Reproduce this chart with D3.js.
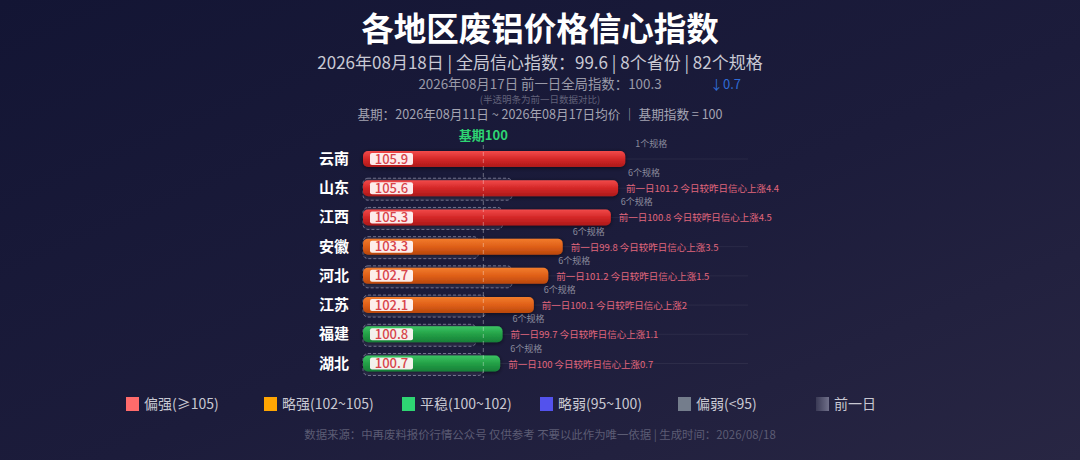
<!DOCTYPE html>
<html>
<head>
<meta charset="utf-8">
<script src="https://cdn.jsdelivr.net/npm/d3@7"></script>
<style>
  html, body { margin: 0; padding: 0; background: #1a1a38; }
  svg { display: block; font-family: "Noto Sans CJK SC", "Noto Sans", sans-serif; }
</style>
</head>
<body>
<div id="chart"></div>
<script>
// Data_______________________________________________________
const provinces = ['云南', '山东', '江西', '安徽', '河北', '江苏', '福建', '湖北'];
const todayIndex = [105.9, 105.6, 105.3, 103.3, 102.7, 102.1, 100.8, 100.7];
const prevIndex = [null, 101.2, 100.8, 99.8, 101.2, 100.1, 99.7, 100];
const specCounts = [1, 6, 6, 6, 6, 6, 6, 6];

const legendLabels = ['偏强(≥105)', '略强(102~105)', '平稳(100~102)', '略弱(95~100)', '偏弱(<95)', '前一日'];
const legendColors = ['#ff6b6b', '#ffa502', '#2ed573', '#5352ed', '#747d8c', 'prev'];

const baseValue = 100;

// Sizes______________________________________________________
const width = 1080;
const height = 460;

const svg = d3.select('#chart')
    .append('svg')
    .attr('width', width)
    .attr('height', height);

const defs = svg.append('defs');

// background
const bg = defs.append('linearGradient').attr('id', 'bg')
    .attr('x1', '0%').attr('y1', '0%').attr('x2', '100%').attr('y2', '100%');
bg.append('stop').attr('offset', '0%').attr('stop-color', '#131534');
bg.append('stop').attr('offset', '55%').attr('stop-color', '#1c1c3b');
bg.append('stop').attr('offset', '100%').attr('stop-color', '#282643');

svg.append('rect').attr('width', width).attr('height', height).attr('fill', 'url(#bg)');

// bar gradients
const barGrads = {
    red: ['#f24a4a', '#d42828', '#ad1919'],
    orange: ['#f27c2c', '#df5f18', '#b9470c'],
    green: ['#3cc463', '#23a046', '#177f38']
};
Object.keys(barGrads).forEach(k => {
    const g = defs.append('linearGradient').attr('id', 'grad-' + k)
        .attr('x1', 0).attr('y1', 0).attr('x2', 0).attr('y2', 1);
    g.append('stop').attr('offset', '0%').attr('stop-color', barGrads[k][0]);
    g.append('stop').attr('offset', '50%').attr('stop-color', barGrads[k][1]);
    g.append('stop').attr('offset', '100%').attr('stop-color', barGrads[k][2]);
});

const glow = defs.append('filter').attr('id', 'glow')
    .attr('x', '-10%').attr('y', '-60%').attr('width', '120%').attr('height', '220%');
glow.append('feDropShadow').attr('dx', 0).attr('dy', 1).attr('stdDeviation', 2.2)
    .attr('flood-color', '#000').attr('flood-opacity', 0.55);

const prevGrad = defs.append('linearGradient').attr('id', 'prev-grad')
    .attr('x1', 0).attr('y1', 0).attr('x2', 1).attr('y2', 0);
prevGrad.append('stop').attr('offset', '0%').attr('stop-color', '#3a3a55');
prevGrad.append('stop').attr('offset', '100%').attr('stop-color', '#70708a');

const sepGrad = defs.append('linearGradient').attr('id', 'sep-grad')
    .attr('x1', 0).attr('y1', 0).attr('x2', 1).attr('y2', 0);
sepGrad.append('stop').attr('offset', '0%').attr('stop-color', '#fff').attr('stop-opacity', 0.02);
sepGrad.append('stop').attr('offset', '50%').attr('stop-color', '#fff').attr('stop-opacity', 0.12);
sepGrad.append('stop').attr('offset', '100%').attr('stop-color', '#fff').attr('stop-opacity', 0.02);

// Titles_____________________________________________________
svg.append('text')
    .attr('x', 540).attr('y', 41)
    .attr('text-anchor', 'middle')
    .attr('fill', '#ffffff')
    .style('font-size', '32.5px')
    .style('font-weight', 'bold')
    .text('各地区废铝价格信心指数');

svg.append('text')
    .attr('x', 540).attr('y', 68.5)
    .attr('text-anchor', 'middle')
    .attr('fill', '#c9c9d4')
    .style('font-size', '17px')
    .text('2026年08月18日 | 全局信心指数：99.6 | 8个省份 | 82个规格');

svg.append('text')
    .attr('x', 540).attr('y', 88.5)
    .attr('text-anchor', 'middle')
    .attr('fill', '#9a9aa8')
    .style('font-size', '13.4px')
    .text('2026年08月17日 前一日全局指数：100.3');

svg.append('text')
    .attr('x', 710).attr('y', 88.5)
    .attr('fill', '#2f6bd6')
    .style('font-size', '13px')
    .text('↓0.7');

svg.append('text')
    .attr('x', 540).attr('y', 102.5)
    .attr('text-anchor', 'middle')
    .attr('fill', '#62627a')
    .style('font-size', '9.5px')
    .text('(半透明条为前一日数据对比)');

svg.append('text')
    .attr('x', 540).attr('y', 119)
    .attr('text-anchor', 'middle')
    .attr('fill', '#a4a4b2')
    .style('font-size', '12.6px')
    .text('基期：2026年08月11日 ~ 2026年08月17日均价 ｜ 基期指数 = 100');

// Scales_____________________________________________________
const x = d3.scaleLinear().domain([95, 111]).range([363, 748]);
const y = d3.scalePoint().domain(provinces).range([159, 363.5]);
const barH = 16;

const rows = provinces.map((p, i) => ({
    name: p,
    value: todayIndex[i],
    prev: prevIndex[i],
    specs: specCounts[i]
}));

const colorKey = v => v >= 105 ? 'red' : (v >= 102 ? 'orange' : 'green');

// grid lines
svg.append('g').selectAll('line')
    .data(rows).enter().append('line')
    .attr('x1', x.range()[0]).attr('x2', x.range()[1])
    .attr('y1', d => y(d.name)).attr('y2', d => y(d.name))
    .attr('stroke', 'rgba(255,255,255,0.06)');

// Previous day ghost bars___________________________________
svg.append('g').selectAll('rect')
    .data(rows.filter(d => d.prev !== null))
    .enter().append('rect')
    .attr('x', x(95))
    .attr('y', d => y(d.name) - 10)
    .attr('width', d => x(d.prev) - x(95))
    .attr('height', 22)
    .attr('rx', 5)
    .attr('fill', 'rgba(150,150,185,0.16)')
    .attr('stroke', 'rgba(185,185,210,0.55)')
    .attr('stroke-dasharray', '3,2');

// Bars_______________________________________________________
const bar = svg.append('g').selectAll('g')
    .data(rows).enter().append('g');

bar.append('rect')
    .attr('x', x(95))
    .attr('y', d => y(d.name) - barH / 2)
    .attr('width', d => x(d.value) - x(95))
    .attr('height', barH)
    .attr('rx', 5)
    .attr('fill', d => 'url(#grad-' + colorKey(d.value) + ')')
    .attr('filter', 'url(#glow)');

bar.append('rect')
    .attr('x', x(95) + 7)
    .attr('y', d => y(d.name) - 6)
    .attr('width', 43)
    .attr('height', 12)
    .attr('rx', 2)
    .attr('fill', 'rgba(255,246,246,0.95)');

bar.append('text')
    .attr('x', x(95) + 28.5)
    .attr('y', d => y(d.name) + 4.6)
    .attr('text-anchor', 'middle')
    .attr('fill', '#d8444b')
    .style('font-size', '13px')
    .style('font-weight', '500')
    .text(d => d.value.toFixed(1));

// province labels
bar.append('text')
    .attr('x', 349)
    .attr('y', d => y(d.name) + 5)
    .attr('text-anchor', 'end')
    .attr('fill', '#ffffff')
    .style('font-size', '15px')
    .style('font-weight', 'bold')
    .text(d => d.name);

// spec count
bar.append('text')
    .attr('x', d => x(d.value) + 10)
    .attr('y', d => y(d.name) - 12)
    .attr('fill', '#8a8a9c')
    .style('font-size', '9px')
    .text(d => d.specs + '个规格');

// change vs previous day
bar.filter(d => d.prev !== null).append('text')
    .attr('x', d => x(d.value) + 8)
    .attr('y', d => y(d.name) + 4)
    .attr('fill', '#e0667c')
    .style('font-size', '9.5px')
    .text(d => {
        const diff = +(d.value - d.prev).toFixed(1);
        return '前一日' + d.prev + ' 今日较昨日信心' + (diff >= 0 ? '上涨' : '下跌') + Math.abs(diff);
    });

// Base line__________________________________________________
svg.append('line')
    .attr('x1', x(baseValue)).attr('x2', x(baseValue))
    .attr('y1', 145).attr('y2', 378)
    .attr('stroke', 'rgba(255,255,255,0.35)')
    .attr('stroke-dasharray', '4,3');

svg.append('text')
    .attr('x', x(baseValue)).attr('y', 140)
    .attr('text-anchor', 'middle')
    .attr('fill', '#2ed573')
    .style('font-size', '13px')
    .style('font-weight', 'bold')
    .text('基期' + baseValue);

// Separator__________________________________________________
svg.append('line')
    .attr('x1', 38).attr('x2', 1040)
    .attr('y1', 383).attr('y2', 383)
    .attr('stroke', 'url(#sep-grad)');

// Legend_____________________________________________________
const legendItem = svg.append('g').selectAll('g')
    .data(legendLabels).enter().append('g')
    .attr('transform', (d, i) => `translate(${126 + i * 138}, 397)`);

legendItem.append('rect')
    .attr('width', 13)
    .attr('height', 14)
    .attr('fill', (d, i) => legendColors[i] === 'prev' ? 'url(#prev-grad)' : legendColors[i]);

legendItem.append('text')
    .attr('x', 18)
    .attr('y', 12)
    .attr('fill', '#c8c8d2')
    .style('font-size', '14px')
    .text(d => d);

// Footer_____________________________________________________
svg.append('text')
    .attr('x', 540).attr('y', 439)
    .attr('text-anchor', 'middle')
    .attr('fill', '#5c5c74')
    .style('font-size', '11.4px')
    .text('数据来源：中再废料报价行情公众号 仅供参考 不要以此作为唯一依据 | 生成时间：2026/08/18');
</script>
</body>
</html>
